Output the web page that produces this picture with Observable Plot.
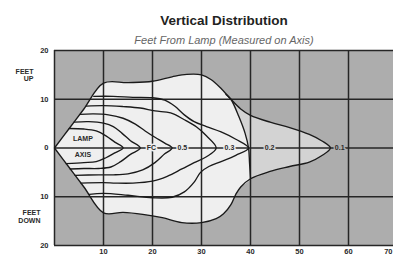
<!DOCTYPE html>
<html><head><meta charset="utf-8">
<script src="https://cdn.jsdelivr.net/npm/d3@7"></script>
<script src="https://cdn.jsdelivr.net/npm/@observablehq/plot@0.6"></script>
<style>
body{margin:0;background:#fff;}
#chart svg{font-family:"Liberation Sans",Arial,sans-serif;}
</style></head><body>
<div id="chart"></div>
<script>
// Feet from lamp (x) and feet up/down (y)
const xTicks = [10, 20, 30, 40, 50, 60, 70];
const yTicks = [-20, -10, 0, 10, 20];

// 0.1 footcandle envelope (closed, starting and ending at the lamp)
const env01 = [[0,0],[3,4],[6,8],[10,13.3],[15,13.4],[20,13.7],[24,14.6],[27,15.1],[30,15],[32,14],[34,12.2],[36,10],[38,8],[40,6.7],[44,5.3],[48,4.2],[52,2.8],[54.5,1.5],[56.3,0],
  [54.5,-1.6],[52,-2.9],[48,-3.8],[44,-4.8],[40,-6.3],[38,-8],[37,-9.5],[36,-11.6],[34.5,-13.5],[33,-14.5],[30,-15.3],[26,-15.3],[22,-14.3],[18,-13.6],[14,-13.2],[10,-13.3],[6,-8],[3,-4],[0,0]];
// bright zone boundary (ends at 39.6 ft)
const zone02 = [[0,0],[3,4],[6,8],[10,13.3],[15,13.4],[20,13.7],[24,14.6],[27,15.1],[30,15],[32,14],[34,12.2],[36,10],[37.6,6.5],[38.9,3],[39.6,0],
  [39.8,-3],[40,-6.3],[38,-8],[37,-9.5],[36,-11.6],[34.5,-13.5],[33,-14.5],[30,-15.3],[26,-15.3],[22,-14.3],[18,-13.6],[14,-13.2],[10,-13.3],[6,-8],[3,-4],[0,0]];
const zone02Edge = [[35,11],[36,10],[37.6,6.5],[38.9,3],[39.6,0],[39.8,-3],[40,-6.3]];
// isolux lines (top branch -> tip on axis -> bottom branch)
const c02 = [[8.0,10.6],[12,10.6],[16,10.4],[20,10.3],[22.5,9.8],[24.5,8.6],[26.5,6.8],[28.5,5.4],[31,4.4],[34,3.3],[37,1.8],[39.6,0],
  [37,-1.5],[34,-2.8],[31.5,-3.8],[29.8,-5],[28.5,-7],[26.5,-9],[24,-10.1],[20,-10.2],[15,-9.7],[10,-9.3],[7.1,-9.5]];
const c03 = [[6.5,8.6],[10,8.7],[14,8.5],[17.5,8.2],[20.5,7.6],[23.7,7.2],[26.5,5.8],[29,4.3],[31,2.5],[33,0],
  [31,-1.8],[28.5,-3],[26,-4.3],[23,-5.8],[20,-6.8],[16,-7.2],[12.5,-7.2],[10,-7.1],[5.4,-7.2]];
const c05 = [[5.2,6.9],[8,7.0],[11,6.8],[14,6.1],[16.5,4.9],[18.5,3.5],[20.5,2.2],[22.5,1],[24,0],
  [22.5,-1.2],[20.5,-3],[18,-4.5],[15,-5.3],[12,-5.5],[9,-5.5],[4.2,-5.6]];
const c1 = [[4.0,5.3],[7,5.4],[10,5.1],[12,4.4],[13.8,3],[15.5,1.5],[17.5,0],
  [15.5,-1.3],[13.5,-2.8],[11.5,-3.9],[9,-4.2],[6,-4.2],[3.2,-4.3]];
const c2 = [[3,4],[6,3.9],[8.5,3.5],[10.5,2.5],[12.3,1.2],[14,0],
  [12.3,-1],[10.5,-2],[8.5,-2.8],[6,-3],[2.4,-3.2]];

const tipLabels = ["FC", "0.5", "0.3", "0.2", "0.1"];
const tipLabelX = [19.8, 26.1, 35.7, 43.9, 58.2];
const lampLabels = ["LAMP", "AXIS"];
const sideLabels = ["FEET\nUP", "FEET\nDOWN"];

const pts = a => a.map(([x, y]) => ({x, y}));
const labels = tipLabels.map((t, i) => ({t, x: tipLabelX[i]}));

const GRAY = "#adadad", MID = "#d3d3d3", LIGHT = "#efefef", INK = "#1a1a1a";
const lineOpts = {x: "x", y: "y", curve: "catmull-rom", stroke: INK, strokeWidth: 1.35};
const txt = {fontWeight: "bold", fill: "#2a2a2a"};

const chart = Plot.plot({
  width: 393, height: 259,
  marginLeft: 54, marginRight: 0, marginTop: 50, marginBottom: 14,
  x: {domain: [0, 70], range: [54, 397], axis: null},
  y: {domain: [-20, 20], range: [245, 50], axis: null},
  marks: [
    Plot.frame({fill: GRAY, stroke: "none"}),
    Plot.line(pts(env01), {x: "x", y: "y", curve: "catmull-rom", fill: MID, stroke: "none"}),
    Plot.line(pts(zone02), {x: "x", y: "y", curve: "catmull-rom", fill: LIGHT, stroke: "none"}),
    Plot.ruleX([0, ...xTicks], {x: d => d, stroke: "#262626", strokeWidth: 1.5}),
    Plot.ruleY(yTicks, {y: d => d, stroke: "#262626", strokeWidth: 1.5}),
    Plot.line(pts(env01), lineOpts),
    Plot.line(pts(zone02Edge), lineOpts),
    Plot.line(pts(c02), lineOpts),
    Plot.line(pts(c03), lineOpts),
    Plot.line(pts(c05), lineOpts),
    Plot.line(pts(c1), lineOpts),
    Plot.line(pts(c2), lineOpts),
    Plot.text(labels.slice(0, 3), {x: "x", y: 0, text: "t", fontSize: 7, ...txt, stroke: LIGHT, strokeWidth: 3}),
    Plot.text(labels.slice(3, 4), {x: "x", y: 0, text: "t", fontSize: 7, ...txt, stroke: MID, strokeWidth: 3}),
    Plot.text(labels.slice(4), {x: "x", y: 0, text: "t", fontSize: 7, ...txt, stroke: GRAY, strokeWidth: 3}),
    Plot.text(lampLabels, {x: 5.8, y: (d, i) => i ? -1.4 : 1.8, text: d => d, fontSize: 7, ...txt, stroke: LIGHT, strokeWidth: 2}),
    Plot.text(xTicks.slice(0, -1), {x: d => d, frameAnchor: "bottom", dy: 8, text: d => String(d), fontSize: 7.5, ...txt}),
    Plot.text(xTicks.slice(-1), {x: d => d, frameAnchor: "bottom", dy: 8, dx: -5, textAnchor: "end", text: d => String(d), fontSize: 7.5, ...txt}),
    Plot.text(yTicks, {y: d => d, frameAnchor: "left", dx: -6, textAnchor: "end", text: d => String(Math.abs(d)), fontSize: 7.5, ...txt}),
    Plot.text(sideLabels.slice(0, 1), {y: 14.9, frameAnchor: "left", dx: -21, textAnchor: "end", text: d => d, fontSize: 7, lineHeight: 1.05, ...txt}),
    Plot.text(sideLabels.slice(1), {y: -14.1, frameAnchor: "left", dx: -14, textAnchor: "end", text: d => d, fontSize: 7, lineHeight: 1.05, ...txt}),
    Plot.text(["Vertical Distribution"], {frameAnchor: "top", dy: -35, text: d => d, fontSize: 13.5, fontWeight: "bold", fill: "#222", letterSpacing: 1.6}),
    Plot.text(["Feet From Lamp (Measured on Axis)"], {frameAnchor: "top", dy: -14, text: d => d, fontSize: 11, fontStyle: "italic", fill: "#666", letterSpacing: 1.7})
  ]
});
document.getElementById("chart").appendChild(chart);
</script>
</body></html>
